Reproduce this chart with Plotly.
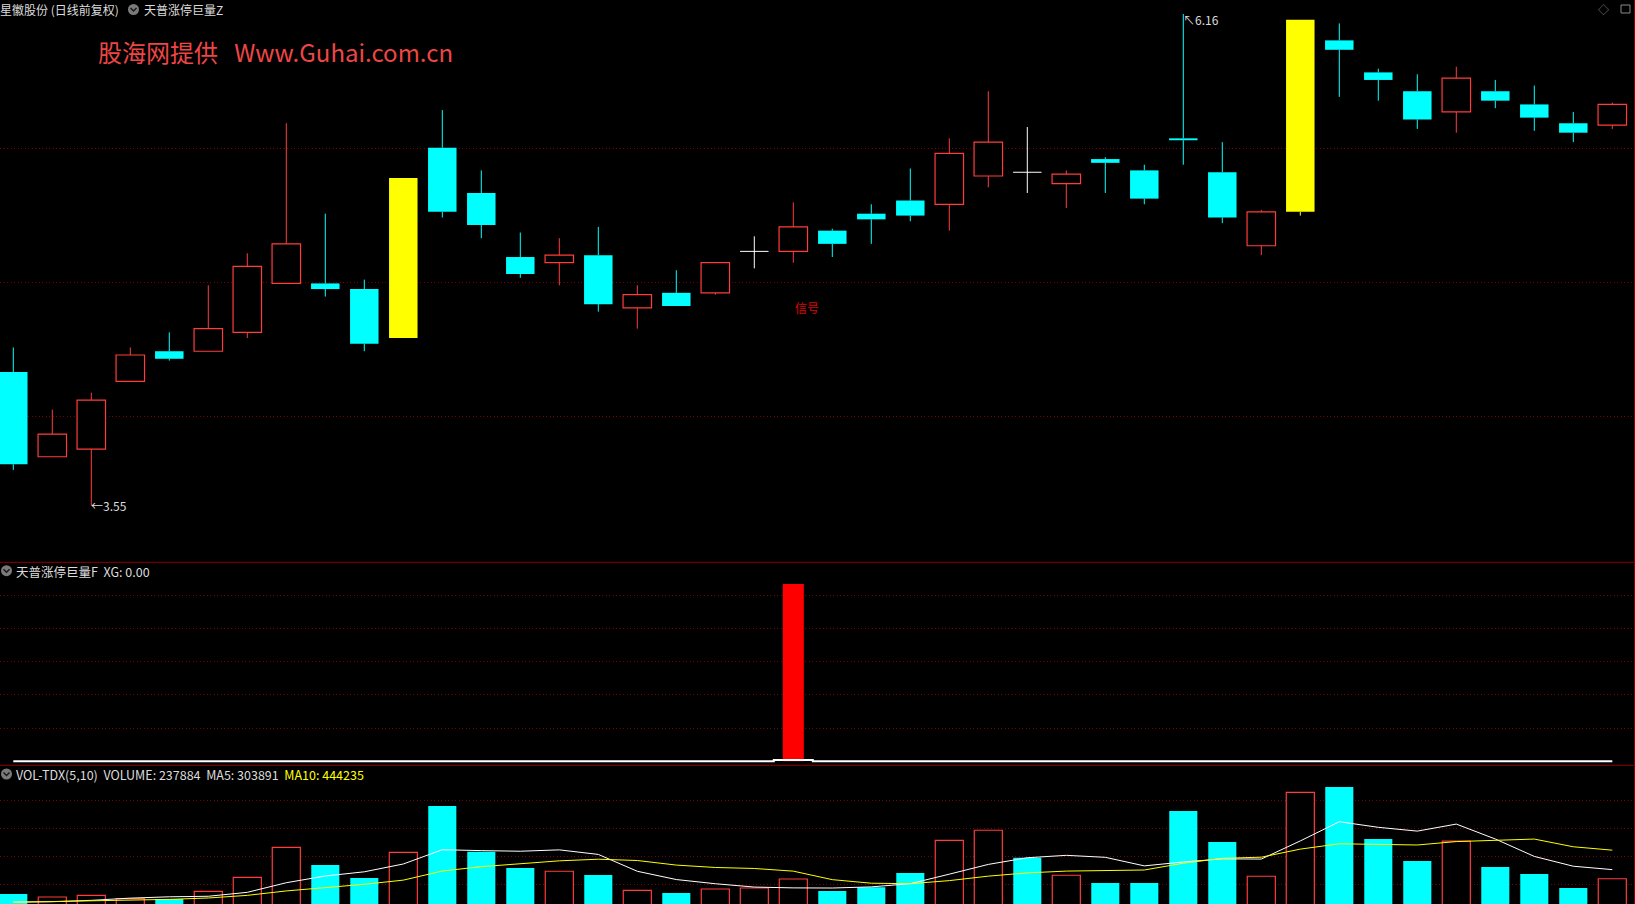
import plotly.graph_objects as go

W, H = 1635, 904

# ---------------- data ----------------
days = list(range(42))
open_ = [4.26, 3.81, 3.85, 4.21, 4.37, 4.37, 4.47, 4.73, 4.73, 4.70,
         4.44, 5.45, 5.21, 4.87, 4.84, 4.88, 4.60, 4.68, 4.68, 4.90,
         4.90, 5.01, 5.10, 5.17, 5.15, 5.30, 5.32, 5.26, 5.39, 5.33,
         5.50, 5.32, 4.93, 5.11, 6.02, 5.85, 5.75, 5.64, 5.75, 5.68,
         5.58, 5.57]
high = [4.39, 4.06, 4.15, 4.39, 4.47, 4.72, 4.89, 5.58, 5.10, 4.75,
        5.29, 5.65, 5.33, 5.00, 4.97, 5.03, 4.72, 4.80, 4.84, 4.98,
        5.16, 5.02, 5.15, 5.34, 5.50, 5.75, 5.56, 5.33, 5.40, 5.36,
        6.16, 5.48, 5.12, 6.13, 6.11, 5.87, 5.84, 5.88, 5.81, 5.78,
        5.64, 5.69]
low = [3.74, 3.81, 3.55, 4.21, 4.32, 4.37, 4.44, 4.73, 4.66, 4.37,
       4.44, 5.08, 4.97, 4.76, 4.72, 4.58, 4.49, 4.61, 4.67, 4.81,
       4.84, 4.87, 4.94, 5.06, 5.01, 5.24, 5.21, 5.13, 5.21, 5.15,
       5.36, 5.05, 4.88, 5.09, 5.72, 5.70, 5.55, 5.53, 5.66, 5.54,
       5.48, 5.55]
close = [3.77, 3.93, 4.11, 4.35, 4.33, 4.49, 4.82, 4.94, 4.70, 4.41,
         5.29, 5.11, 5.04, 4.78, 4.88, 4.62, 4.67, 4.61, 4.84, 4.90,
         5.03, 4.94, 5.07, 5.09, 5.42, 5.48, 5.32, 5.31, 5.37, 5.18,
         5.49, 5.08, 5.11, 6.13, 5.97, 5.81, 5.60, 5.82, 5.70, 5.61,
         5.53, 5.68]
limit_up_days = [10, 33]          # highlighted (yellow) candles

volume = [127800, 106000, 118000, 94000, 92000, 147000, 248000, 465000, 337000, 243000,
          429000, 763000, 433000, 315000, 292000, 265000, 154000, 135000, 164000, 171000,
          236000, 149000, 176000, 279000, 515000, 588000, 390000, 263000, 207000, 207000,
          727000, 503000, 256000, 862000, 900000, 525000, 366000, 510000, 323000, 272000,
          171000, 237884]
ma5 = [70000, 72000, 82000, 98000, 107600, 111400, 139800, 209200, 257800, 288000,
       344400, 447400, 441000, 436600, 446400, 413600, 291800, 232200, 202000, 177800,
       172000, 171000, 179200, 202200, 271000, 341400, 389600, 407000, 392600, 331000,
       358800, 381400, 380000, 511000, 649600, 609200, 581800, 632600, 524800, 399200,
       328400, 303891]
ma10 = [68000, 72000, 78000, 84000, 89000, 99000, 118000, 150000, 172000, 197800,
        227900, 293600, 325100, 347200, 367200, 379000, 369600, 336600, 319300, 312100,
        292800, 231400, 205700, 202100, 224400, 256700, 280300, 293100, 297400, 301000,
        350100, 385500, 393500, 451800, 490300, 484000, 481600, 506300, 517900, 524400,
        468800, 444235]

xg = [0, 0, 0, 0, 0, 0, 0, 0, 0, 0,
      0, 0, 0, 0, 0, 0, 0, 0, 0, 0,
      0.04, 0, 0, 0, 0, 0, 0, 0, 0, 0,
      0, 0, 0, 0, 0, 0, 0, 0, 0, 0,
      0, 0]
stick = [0, 0, 0, 0, 0, 0, 0, 0, 0, 0,
         0, 0, 0, 0, 0, 0, 0, 0, 0, 0,
         5.33, 0, 0, 0, 0, 0, 0, 0, 0, 0,
         0, 0, 0, 0, 0, 0, 0, 0, 0, 0,
         0, 0]
signal_text_y = 4.60
low_label_day, high_label_day = 2, 30

NB = "\u00a0"
main_title = "星徽股份 (日线前复权)"
formula_title = "天普涨停巨量Z"
ind_title = "天普涨停巨量F" + NB + NB + "XG: 0.00"
vol_title = "VOL-TDX(5,10)" + NB + NB + "VOLUME: 237884" + NB + NB + "MA5: 303891" + NB + NB
vol_title_ma10 = "MA10: 444235"
watermark = "股海网提供" + NB + NB + NB + "Www.Guhai.com.cn"

# ---------------- styles ----------------
RED = "#FF3C3C"
CYAN = "#00FFFF"
YELLOW = "#FFFF00"
WHITE = "#FFFFFF"
TXT = "#DCDCDC"
GRID = "rgb(125,0,0)"
SEP = "#8C0000"
FONT = "Noto Sans CJK SC"
BODY_W = 0.73
VOL_W = 0.72

fig = go.Figure()

def body_trace(idx, fill, line_color, line_w):
    return go.Bar(
        x=idx,
        y=[abs(close[i] - open_[i]) for i in idx],
        base=[min(open_[i], close[i]) for i in idx],
        width=BODY_W,
        marker=dict(color=fill, line=dict(color=line_color, width=line_w)),
        yaxis="y", hoverinfo="skip", showlegend=False)

def wick_trace(idx, color, full=False):
    xs, ys = [], []
    for i in idx:
        lo_b, hi_b = min(open_[i], close[i]), max(open_[i], close[i])
        if full:
            xs += [i, i, None]
            ys += [low[i], high[i], None]
            continue
        if low[i] < lo_b:
            xs += [i, i, None]
            ys += [low[i], lo_b, None]
        if high[i] > hi_b:
            xs += [i, i, None]
            ys += [hi_b, high[i], None]
    return go.Scatter(x=xs, y=ys, mode="lines", line=dict(color=color, width=1),
                      yaxis="y", hoverinfo="skip", showlegend=False)

up = [i for i in days if close[i] > open_[i] and i not in limit_up_days]
down = [i for i in days if close[i] < open_[i] and i not in limit_up_days]
doji = [i for i in days if close[i] == open_[i]]

fig.add_trace(body_trace(up, "black", RED, 1.2))
fig.add_trace(body_trace(down, CYAN, CYAN, 0))
fig.add_trace(body_trace(limit_up_days, YELLOW, YELLOW, 0))
fig.add_trace(wick_trace(up, RED))
fig.add_trace(wick_trace(down, CYAN))
fig.add_trace(wick_trace(limit_up_days, YELLOW))
fig.add_trace(wick_trace(doji, WHITE, full=True))
# doji horizontal strokes
dx, dy = [], []
for i in doji:
    dx += [i - BODY_W / 2, i + BODY_W / 2, None]
    dy += [open_[i], open_[i], None]
fig.add_trace(go.Scatter(x=dx, y=dy, mode="lines", line=dict(color=WHITE, width=1),
                         yaxis="y", hoverinfo="skip", showlegend=False))

# ---------------- indicator panel ----------------
sig_days = [i for i in days if stick[i] > 0]
fig.add_trace(go.Bar(x=sig_days, y=[stick[i] for i in sig_days], width=0.54,
                     marker=dict(color="#FF0000", line=dict(width=0)),
                     yaxis="y2", hoverinfo="skip", showlegend=False))
fig.add_trace(go.Scatter(x=days, y=xg, mode="lines", line=dict(color=WHITE, width=2, shape="hvh"),
                         yaxis="y2", hoverinfo="skip", showlegend=False))

# ---------------- volume panel ----------------
vol_up = []
for i in days:
    if close[i] > open_[i]:
        vol_up.append(True)
    elif close[i] < open_[i]:
        vol_up.append(False)
    else:
        vol_up.append(i > 0 and close[i] >= close[i - 1])
vu = [i for i in days if vol_up[i]]
vd = [i for i in days if not vol_up[i]]
fig.add_trace(go.Bar(x=vu, y=[volume[i] for i in vu], width=VOL_W,
                     marker=dict(color="black", line=dict(color=RED, width=1.2)),
                     yaxis="y3", hoverinfo="skip", showlegend=False))
fig.add_trace(go.Bar(x=vd, y=[volume[i] for i in vd], width=VOL_W,
                     marker=dict(color=CYAN, line=dict(width=0)),
                     yaxis="y3", hoverinfo="skip", showlegend=False))
fig.add_trace(go.Scatter(x=days, y=ma5, mode="lines", line=dict(color=WHITE, width=1),
                         yaxis="y3", hoverinfo="skip", showlegend=False))
fig.add_trace(go.Scatter(x=days, y=ma10, mode="lines", line=dict(color=YELLOW, width=1),
                         yaxis="y3", hoverinfo="skip", showlegend=False))

# ---------------- layout ----------------
def PX(x):
    return x / W

def PY(y):
    return 1 - y / H

main_bot = PY(562.3)
ind_bot = PY(765.3)

axis_common = dict(showticklabels=False, zeroline=False, showline=False, ticks="",
                   gridcolor=GRID, griddash="1px,2.5px", gridwidth=1, fixedrange=True)

fig.update_layout(
    width=W, height=H,
    margin=dict(l=0, r=0, t=0, b=0, pad=0),
    paper_bgcolor="black", plot_bgcolor="black",
    barmode="overlay", showlegend=False,
    xaxis=dict(range=[-0.341, 41.582], visible=False, fixedrange=True),
    yaxis=dict(domain=[main_bot, 1], range=[3.2497, 6.2343],
               tickvals=[4.025, 4.736, 5.447], **axis_common),
    yaxis2=dict(domain=[ind_bot, main_bot], range=[-0.1203, 5.985], anchor="x",
                tickvals=[1, 2, 3, 4, 5], **axis_common),
    yaxis3=dict(domain=[0, ind_bot], range=[55600, 1057000], anchor="x",
                tickvals=[200000, 400000, 600000, 800000], **axis_common),
    font=dict(family=FONT, color=TXT, size=12),
)

shapes = [
    dict(type="line", xref="paper", yref="paper", x0=0, x1=1, y0=main_bot, y1=main_bot,
         line=dict(color=SEP, width=1)),
    dict(type="line", xref="paper", yref="paper", x0=0, x1=1, y0=ind_bot, y1=ind_bot,
         line=dict(color=SEP, width=1)),
    dict(type="line", xref="paper", yref="paper", x0=PX(1634.5), x1=PX(1634.5), y0=0, y1=1,
         line=dict(color=SEP, width=1)),
]

def icon(cx, cy):
    r = 5.5
    out = [dict(type="circle", xref="paper", yref="paper",
                x0=PX(cx - r), x1=PX(cx + r), y0=PY(cy + r), y1=PY(cy - r),
                fillcolor="#7A7A7A", line=dict(width=0))]
    path = "M {},{} L {},{} L {},{}".format(PX(cx - 3), PY(cy - 1.5), PX(cx), PY(cy + 1.5),
                                              PX(cx + 3), PY(cy - 1.5))
    out.append(dict(type="path", xref="paper", yref="paper", path=path,
                    line=dict(color="#1A1A1A", width=1.5)))
    return out

TOP_Y = 9.5
shapes += icon(6.5, 570.7)
shapes += icon(6.5, 774)
shapes += icon(133.5, TOP_Y)
shapes.append(dict(type="rect", xref="paper", yref="paper", x0=PX(1621), x1=PX(1630),
                   y0=PY(13), y1=PY(5), line=dict(color="#8A8A8A", width=1)))
fig.update_layout(shapes=shapes)

ann = [
    dict(text=watermark, x=PX(96), y=PY(52), xref="paper", yref="paper", xanchor="left",
         yanchor="middle", showarrow=False, font=dict(size=24, color="#EE4646", family=FONT)),
    dict(text=main_title, x=PX(-2), y=PY(TOP_Y), xref="paper", yref="paper", xanchor="left",
         yanchor="middle", showarrow=False, font=dict(size=12, color=TXT)),
    dict(text=formula_title, x=PX(142), y=PY(TOP_Y), xref="paper", yref="paper", xanchor="left",
         yanchor="middle", showarrow=False, font=dict(size=12, color=TXT)),
    dict(text="◇", x=PX(1603), y=PY(TOP_Y), xref="paper", yref="paper", xanchor="center",
         yanchor="middle", showarrow=False, font=dict(size=11, color="#8A8A8A")),
    dict(text=ind_title, x=PX(14), y=PY(571), xref="paper", yref="paper", xanchor="left",
         yanchor="middle", showarrow=False, font=dict(size=12.5, color=TXT)),
    dict(text=vol_title + '<span style="color:' + YELLOW + '">' + vol_title_ma10 + "</span>",
         x=PX(14), y=PY(774), xref="paper", yref="paper", xanchor="left",
         yanchor="middle", showarrow=False, font=dict(size=12.5, color=TXT)),
    dict(text="←" + "{:.2f}".format(low[low_label_day]), x=low_label_day, y=low[low_label_day],
         xref="x", yref="y", xanchor="left", yanchor="middle", showarrow=False,
         xshift=-2, font=dict(size=12, color=TXT)),
    dict(text="↖" + "{:.2f}".format(high[high_label_day]), x=high_label_day, y=high[high_label_day],
         xref="x", yref="y", xanchor="left", yanchor="middle", showarrow=False,
         xshift=-2, yshift=-5, font=dict(size=12, color=TXT)),
]
for i in sig_days:
    ann.append(dict(text="信号", x=i, y=signal_text_y, xref="x", yref="y", xanchor="left",
                    yanchor="middle", showarrow=False, font=dict(size=12, color="#E00000")))
fig.update_layout(annotations=ann)

fig.write_html("out.html", config={"displayModeBar": False, "staticPlot": True},
               post_script="document.body.style.margin='0';document.body.style.overflow='hidden';")
